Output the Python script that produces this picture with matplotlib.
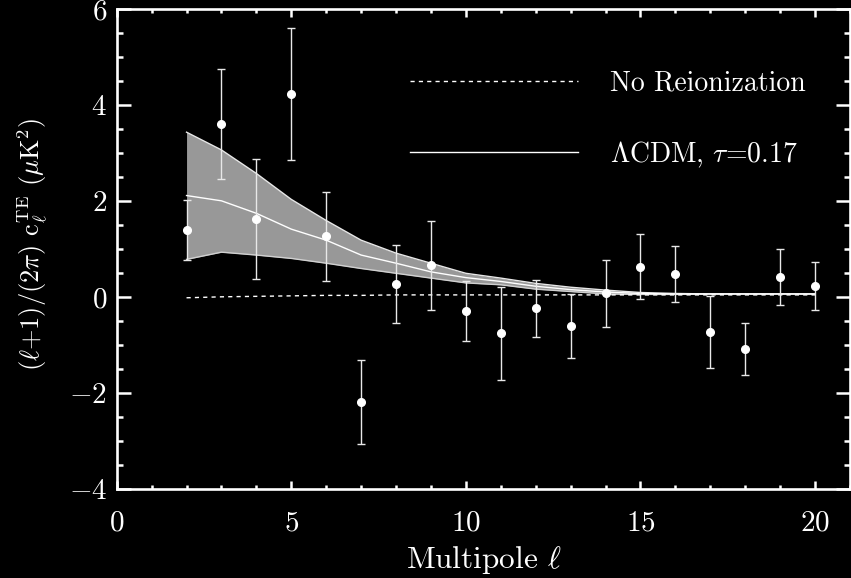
import numpy as np
import matplotlib
matplotlib.use("Agg")
import matplotlib.pyplot as plt
from matplotlib.ticker import MultipleLocator

# TE cross-power spectrum data (multipole, band power, 1-sigma error)
ell = [2, 3, 4, 5, 6, 7, 8, 9, 10, 11, 12, 13, 14, 15, 16, 17, 18, 19, 20]
te_power = [1.40, 3.61, 1.63, 4.24, 1.27, -2.18, 0.27, 0.67, -0.29, -0.75,
            -0.23, -0.60, 0.08, 0.64, 0.49, -0.72, -1.07, 0.42, 0.24]
te_error = [0.62, 1.14, 1.25, 1.37, 0.93, 0.87, 0.81, 0.93, 0.63, 0.97,
            0.60, 0.67, 0.70, 0.67, 0.58, 0.75, 0.54, 0.59, 0.50]

# LCDM model with tau = 0.17 and its cosmic-variance band
model_lcdm = [2.12, 2.01, 1.75, 1.42, 1.19, 0.88, 0.71, 0.53, 0.41, 0.33,
              0.23, 0.16, 0.11, 0.08, 0.07, 0.07, 0.07, 0.07, 0.07]
band_upper = [3.44, 3.07, 2.58, 2.04, 1.60, 1.19, 0.92, 0.71, 0.50, 0.40,
              0.29, 0.21, 0.15, 0.10, 0.08, 0.07, 0.07, 0.07, 0.07]
band_lower = [0.79, 0.94, 0.88, 0.81, 0.71, 0.60, 0.50, 0.40, 0.30, 0.26,
              0.17, 0.12, 0.07, 0.06, 0.06, 0.07, 0.07, 0.07, 0.07]

# Model without reionization
model_noreion = [-0.01, 0.01, 0.02, 0.03, 0.04, 0.04, 0.05, 0.05, 0.05, 0.05,
                 0.05, 0.05, 0.05, 0.05, 0.05, 0.05, 0.05, 0.05, 0.05]

label_noreion = "No Reionization"
label_lcdm = r"$\Lambda$CDM, $\tau$=0.17"

plt.rcParams["font.family"] = ["cmr10", "DejaVu Serif"]
plt.rcParams["mathtext.fontset"] = "cm"
plt.rcParams["axes.formatter.use_mathtext"] = True
plt.rcParams["axes.unicode_minus"] = True

fig = plt.figure(figsize=(8.51, 5.78), dpi=100, facecolor="black")
ax = fig.add_axes([116.7 / 851, (578 - 489.3) / 578, 733.3 / 851, 480 / 578])
ax.set_facecolor("black")

# Shaded band
ax.fill_between(ell, band_lower, band_upper, color="#989898", lw=0, zorder=1)
ax.plot(ell, band_upper, color="#e8e8e8", lw=1.0, zorder=2)
ax.plot(ell, band_lower, color="#d0d0d0", lw=1.0, zorder=2)

# Models
ax.plot(ell, model_noreion, color="white", lw=1.0, ls=(0, (3, 3)), zorder=3,
        label=label_noreion)
ax.plot(ell, model_lcdm, color="white", lw=1.0, zorder=3, label=label_lcdm)

# Data with error bars
ax.errorbar(ell, te_power, yerr=te_error, fmt="o", color="white",
            ecolor="#e8e8e8", elinewidth=1.0, capsize=3, capthick=1.0,
            markersize=5.5, zorder=4)

ax.set_xlim(0, 21)
ax.set_ylim(-4, 6)

ax.xaxis.set_major_locator(MultipleLocator(5))
ax.xaxis.set_minor_locator(MultipleLocator(1))
ax.yaxis.set_major_locator(MultipleLocator(2))
ax.yaxis.set_minor_locator(MultipleLocator(0.5))

for s in ax.spines.values():
    s.set_color("white")
    s.set_linewidth(1.9)

ax.tick_params(axis="both", which="both", direction="in", colors="white",
               top=True, right=True, width=1.8)
ax.tick_params(axis="x", which="major", length=5.8, pad=15, labelsize=21)
ax.tick_params(axis="x", which="minor", length=2.9)
ax.tick_params(axis="y", which="major", length=10, pad=7, labelsize=21)
ax.tick_params(axis="y", which="minor", length=4.3)

ax.set_xlabel(r"Multipole $\ell$", color="white", fontsize=22.5)
ax.xaxis.set_label_coords(0.5, -(560 - 489.3) / 480)
ax.xaxis.label.set_va("center")

ax.set_ylabel(r"$(\ell$+1)/(2$\pi$) c$_\ell^{\rm TE}$ ($\mu$K$^2$)",
              color="white", fontsize=19)
ax.yaxis.label.set_va("center")
ax.yaxis.set_label_coords(-(116.7 - 33) / 733.3, 0.51)

leg = ax.legend(loc="upper left", bbox_to_anchor=((410 - 116.7) / 733.3, (489.3 - 70) / 480),
                frameon=False, fontsize=20, handlelength=6.05, handletextpad=1.15,
                labelspacing=1.55, borderaxespad=0, borderpad=0, labelcolor="white")

fig.savefig("out.png", dpi=100, facecolor="black")
